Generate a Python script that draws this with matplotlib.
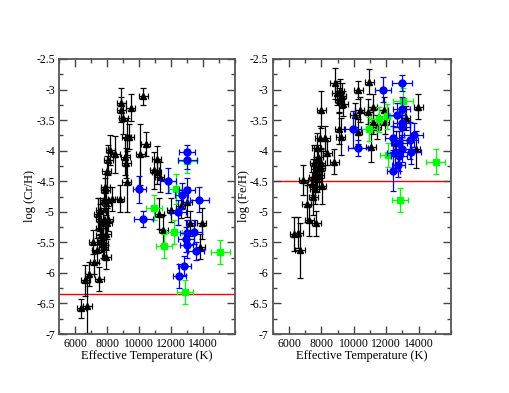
import matplotlib
matplotlib.use('Agg')
import matplotlib.pyplot as plt
from matplotlib.ticker import MultipleLocator, FixedLocator, FuncFormatter

plt.rcParams['font.family'] = ['Liberation Serif', 'DejaVu Serif']

# ---- log(Cr/H) panel ----
cr_black_T = [10270, 8875, 8875, 9000, 9480, 9230, 9400, 9125, 9200, 9230,
              10420, 10060, 8190, 8500, 8080, 7980, 7875, 7900, 7810, 8330,
              8790, 11100, 10940, 11100, 11300, 7560, 7940, 7460, 7560, 7770,
              8000, 8080, 7560, 7600, 7940, 7660, 7770, 7800, 7140, 7350,
              7940, 7190, 6900, 6625, 7520, 6375, 6770, 11270, 12000, 11520,
              13190, 13920, 13810, 13000, 12600]
cr_black_v = [-3.11, -3.22, -3.33, -3.47, -3.30, -3.77, -3.77, -4.10, -4.20, -4.51,
              -3.89, -4.06, -3.99, -4.06, -4.15, -4.34, -4.59, -4.64, -4.80, -4.79,
              -4.79, -4.13, -4.32, -4.35, -4.43, -4.97, -4.86, -5.03, -5.12, -5.19,
              -5.19, -5.11, -5.27, -5.38, -5.37, -5.46, -5.51, -5.57, -5.49, -5.63,
              -5.74, -5.82, -6.02, -6.12, -6.10, -6.58, -6.54, -5.03, -4.97, -5.30,
              -5.19, -5.19, -5.57, -4.84, -4.90]
cr_black_dv = [0.14, 0.25, 0.20, 0.25, 0.22, 0.30, 0.20, 0.30, 0.25, 0.50,
               0.20, 0.50, 0.25, 0.30, 0.25, 0.25, 0.20, 0.20, 0.20, 0.20,
               0.22, 0.20, 0.30, 0.20, 0.25, 0.20, 0.20, 0.25, 0.25, 0.25,
               0.25, 0.20, 0.25, 0.25, 0.25, 0.20, 0.25, 0.20, 0.20, 0.20,
               0.20, 0.20, 0.20, 0.25, 0.20, 0.15, 0.45, 0.25, 0.20, 0.25,
               0.20, 0.25, 0.20, 0.25, 0.20]

cr_blue_T = [13000, 13000, 10020, 11790, 12670, 13000, 13770, 12460, 10270, 12980,
             13440, 12920, 13560, 12830, 12500, 12980]
cr_blue_v = [-4.03, -4.15, -4.63, -4.49, -4.73, -4.64, -4.80, -5.01, -5.12, -5.34,
             -5.33, -5.45, -5.64, -5.88, -6.05, -5.55]
cr_blue_dT = [500, 600, 400, 500, 400, 500, 600, 500, 600, 400,
              500, 500, 500, 400, 400, 400]
cr_blue_dv = [0.13, 0.15, 0.22, 0.20, 0.20, 0.20, 0.20, 0.20, 0.13, 0.20,
              0.20, 0.20, 0.15, 0.15, 0.20, 0.20]

cr_green_T = [13000, 12290, 10960, 12200, 11580, 15060, 12875]
cr_green_v = [-4.17, -4.63, -4.93, -5.33, -5.56, -5.66, -6.31]
cr_green_dT = [600, 400, 500, 500, 500, 600, 500]
cr_green_dv = [0.20, 0.25, 0.20, 0.20, 0.20, 0.20, 0.20]

cr_solar = -6.35

# ---- log(Fe/H) panel ----
fe_black_T = [8840, 8940, 9145, 9250, 9100, 9350, 9100, 9190, 10270, 10240,
              10070, 10380, 10950, 10890, 11160, 11160, 11420, 11860, 11920, 11060,
              13210, 13970, 13810, 12630, 7980, 7910, 8220, 8360, 8780, 7710,
              7560, 7960, 7650, 7950, 7500, 7710, 8020, 6880, 7500, 7090,
              7250, 7670, 6330, 6580, 6680, 7800, 7400, 7600, 7860]
fe_black_v = [-2.90, -3.06, -3.03, -3.10, -3.17, -3.23, -3.64, -3.77, -3.01, -3.69,
              -3.42, -3.33, -2.87, -3.36, -3.28, -3.53, -3.61, -3.33, -3.53, -3.94,
              -3.47, -3.28, -3.98, -3.88, -3.33, -3.80, -3.80, -4.04, -4.18, -3.96,
              -4.20, -4.20, -4.30, -4.28, -4.43, -4.47, -4.58, -4.48, -4.75, -4.87,
              -5.14, -5.19, -5.36, -5.34, -5.63, -4.10, -4.55, -4.62, -4.40]
fe_black_dv = [0.25, 0.20, 0.20, 0.20, 0.20, 0.20, 0.25, 0.30, 0.15, 0.20,
               0.20, 0.20, 0.20, 0.20, 0.20, 0.20, 0.20, 0.20, 0.20, 0.25,
               0.20, 0.20, 0.30, 0.20, 0.30, 0.20, 0.20, 0.20, 0.20, 0.25,
               0.30, 0.25, 0.20, 0.30, 0.30, 0.20, 0.30, 0.25, 0.30, 0.30,
               0.25, 0.20, 0.28, 0.25, 0.45, 0.20, 0.20, 0.25, 0.20]

fe_blue_T = [12980, 11780, 12950, 12640, 12950, 12950, 9960, 10270, 12430, 13700,
             13460, 12800, 12950, 13520, 12530, 12800, 12740, 12430]
fe_blue_v = [-2.89, -3.00, -3.32, -3.42, -3.55, -3.62, -3.65, -3.95, -3.79, -3.74,
             -3.83, -3.88, -3.98, -4.02, -4.04, -4.08, -4.23, -4.34]
fe_blue_dT = [600, 500, 500, 500, 500, 500, 500, 600, 500, 600,
              500, 500, 500, 600, 500, 500, 400, 400]
fe_blue_dv = [0.13, 0.20, 0.20, 0.20, 0.20, 0.20, 0.30, 0.13, 0.20, 0.20,
              0.30, 0.20, 0.20, 0.20, 0.25, 0.25, 0.20, 0.32]

fe_green_T = [10950, 11570, 12120, 13050, 12020, 12840, 15060]
fe_green_v = [-3.65, -3.49, -4.07, -3.18, -3.44, -4.81, -4.18]
fe_green_dT = [500, 500, 500, 600, 500, 500, 600]
fe_green_dv = [0.20, 0.20, 0.20, 0.20, 0.20, 0.20, 0.20]

fe_solar = -4.5

black_dT = 280
x_ticks = [6000, 8000, 10000, 12000, 14000]


def draw_panel(ax, bT, bv, bdv, uT, uv, udT, udv, gT, gv, gdT, gdv, solar, ylabel):
    ax.axhline(solar, color='#ff0000', lw=1.0, zorder=1)
    ax.errorbar(bT, bv, xerr=black_dT, yerr=bdv, fmt='^', color='black',
                ms=4.0, elinewidth=0.9, capsize=2.3, capthick=0.9, zorder=2)
    ax.errorbar(gT, gv, xerr=gdT, yerr=gdv, fmt='s', color='#00ff00',
                ms=4.5, elinewidth=0.9, capsize=2.3, capthick=0.9, zorder=3)
    ax.errorbar(uT, uv, xerr=udT, yerr=udv, fmt='o', color='#0000ff',
                ms=5.0, elinewidth=0.9, capsize=2.3, capthick=0.9, zorder=4)

    ax.set_xlim(5000, 16000)
    ax.set_ylim(-7, -2.5)
    ax.xaxis.set_major_locator(FixedLocator(x_ticks))
    ax.xaxis.set_minor_locator(MultipleLocator(1000))
    ax.yaxis.set_major_locator(MultipleLocator(0.5))
    ax.yaxis.set_minor_locator(MultipleLocator(0.25))
    ax.yaxis.set_major_formatter(FuncFormatter(lambda v, p: '%g' % v))
    ax.xaxis.set_major_formatter(FuncFormatter(lambda v, p: '%d' % v))
    ax.tick_params(which='both', direction='in', top=True, right=True,
                   labelsize=8.5, color='#444444', pad=3)
    ax.tick_params(which='major', length=6, width=1.0)
    ax.tick_params(which='minor', length=3, width=1.0)
    for s in ax.spines.values():
        s.set_linewidth(1.3)
        s.set_color('#555555')
    ax.set_xlabel('Effective Temperature (K)', fontsize=9, labelpad=0)
    ax.set_ylabel(ylabel, fontsize=9, labelpad=0)


fig = plt.figure(figsize=(5.09, 3.93), dpi=100)
ax1 = fig.add_axes([0.116, 0.150, 0.346, 0.700])
ax2 = fig.add_axes([0.536, 0.150, 0.350, 0.700])

draw_panel(ax1, cr_black_T, cr_black_v, cr_black_dv,
           cr_blue_T, cr_blue_v, cr_blue_dT, cr_blue_dv,
           cr_green_T, cr_green_v, cr_green_dT, cr_green_dv,
           cr_solar, 'log (Cr/H)')
draw_panel(ax2, fe_black_T, fe_black_v, fe_black_dv,
           fe_blue_T, fe_blue_v, fe_blue_dT, fe_blue_dv,
           fe_green_T, fe_green_v, fe_green_dT, fe_green_dv,
           fe_solar, 'log (Fe/H)')

fig.savefig('out.png', dpi=100, facecolor='white')
